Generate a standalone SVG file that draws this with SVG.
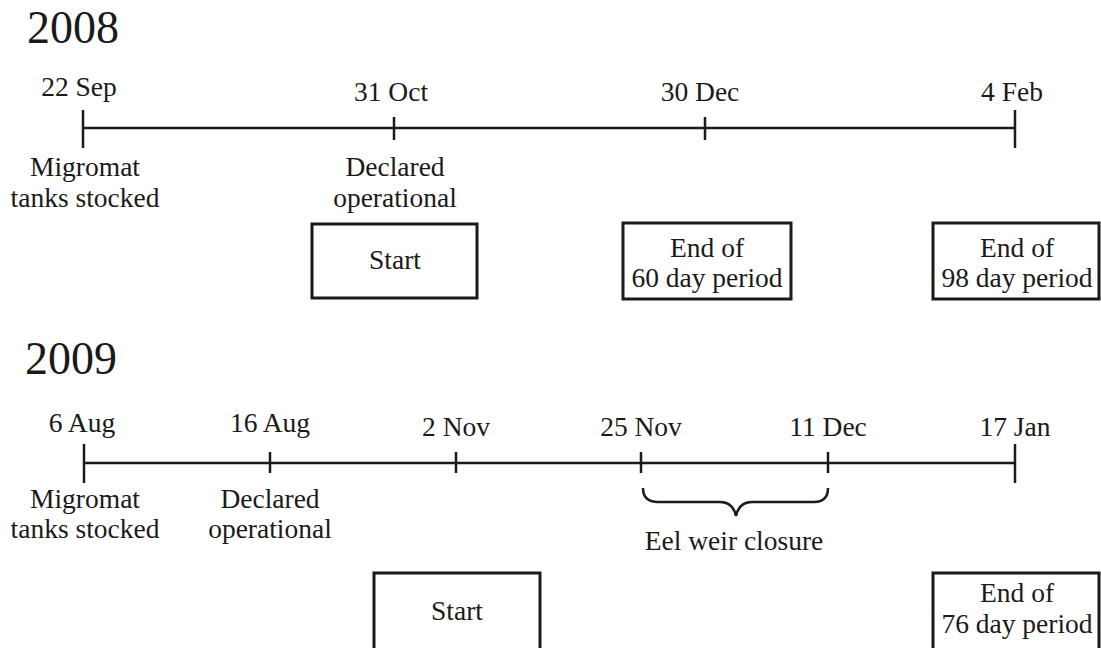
<svg xmlns="http://www.w3.org/2000/svg" width="1101" height="648" viewBox="0 0 1101 648">
<style>
text{font-family:"Liberation Serif","Times New Roman",serif;fill:#1a1a1a;text-anchor:middle}
.t{font-size:27.5px}
.y{font-size:46px;text-anchor:start}
.ln{stroke:#1a1a1a;stroke-width:2.5;fill:none}
.bx{stroke:#1a1a1a;stroke-width:3;fill:#fff}
</style>
<rect width="1101" height="648" fill="#fff"/>
<text class="y" x="27" y="43">2008</text>
<text class="y" x="25" y="374">2009</text>
<g id="connectors">
<line class="ln" x1="83" y1="128" x2="1015" y2="128"/>
<line class="ln" x1="83" y1="110" x2="83" y2="148"/>
<line class="ln" x1="394" y1="117" x2="394" y2="140"/>
<line class="ln" x1="705" y1="117" x2="705" y2="140"/>
<line class="ln" x1="1015" y1="110" x2="1015" y2="148"/>
<line class="ln" x1="84" y1="463" x2="1015" y2="463"/>
<line class="ln" x1="84" y1="444" x2="84" y2="483"/>
<line class="ln" x1="270" y1="452" x2="270" y2="473"/>
<line class="ln" x1="456" y1="452" x2="456" y2="473"/>
<line class="ln" x1="641" y1="452" x2="641" y2="473"/>
<line class="ln" x1="828" y1="452" x2="828" y2="473"/>
<line class="ln" x1="1015" y1="444" x2="1015" y2="483"/>
<path class="ln" d="M643,488 Q643,502 658,502 L720,502 Q733,502 736,516 Q739,502 752,502 L814,502 Q828,502 828,488"/>
</g>
<g id="d2008-22sep"><text class="t" x="79" y="96">22 Sep</text><text class="t" x="85" y="176">Migromat</text><text class="t" x="85" y="207">tanks stocked</text></g>
<g id="d2008-31oct"><text class="t" x="391" y="101">31 Oct</text><text class="t" x="395" y="176">Declared</text><text class="t" x="395" y="207">operational</text></g>
<g id="d2008-30dec"><text class="t" x="700" y="101">30 Dec</text></g>
<g id="d2008-4feb"><text class="t" x="1012" y="101">4 Feb</text></g>
<g id="b2008-start"><rect class="bx" x="312" y="224" width="165" height="74"/><text class="t" x="395" y="269">Start</text></g>
<g id="b2008-60"><rect class="bx" x="623" y="223" width="168" height="76"/><text class="t" x="707" y="257">End of</text><text class="t" x="707" y="287">60 day period</text></g>
<g id="b2008-98"><rect class="bx" x="933" y="223" width="166" height="76"/><text class="t" x="1017" y="257">End of</text><text class="t" x="1017" y="287">98 day period</text></g>
<g id="d2009-6aug"><text class="t" x="82" y="432">6 Aug</text><text class="t" x="85" y="508">Migromat</text><text class="t" x="85" y="538">tanks stocked</text></g>
<g id="d2009-16aug"><text class="t" x="270" y="432">16 Aug</text><text class="t" x="270" y="508">Declared</text><text class="t" x="270" y="538">operational</text></g>
<g id="d2009-2nov"><text class="t" x="456" y="436">2 Nov</text></g>
<g id="d2009-25nov"><text class="t" x="641" y="436">25 Nov</text></g>
<g id="d2009-11dec"><text class="t" x="828" y="436">11 Dec</text></g>
<g id="d2009-17jan"><text class="t" x="1015" y="436">17 Jan</text></g>
<g id="eel"><text class="t" x="734" y="550">Eel weir closure</text></g>
<g id="b2009-start"><rect class="bx" x="374" y="573" width="166" height="80"/><text class="t" x="457" y="620">Start</text></g>
<g id="b2009-76"><rect class="bx" x="933" y="573" width="166" height="80"/><text class="t" x="1017" y="602">End of</text><text class="t" x="1017" y="633">76 day period</text></g>
</svg>
